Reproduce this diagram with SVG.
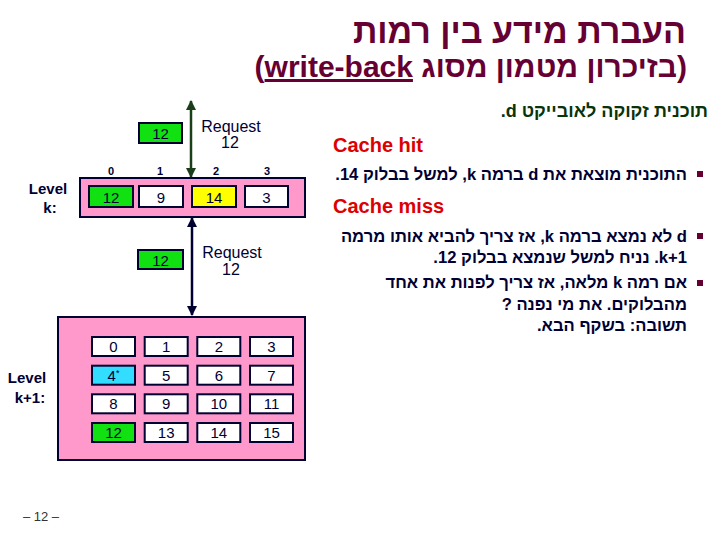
<svg xmlns="http://www.w3.org/2000/svg" width="720" height="540" viewBox="0 0 720 540">
<style>
text{font-family:"Liberation Sans","DejaVu Sans",Arial,sans-serif;}
.title{fill:#660033;font-weight:bold;}
.box{fill:#ff99cc;stroke:#000033;stroke-width:2;}
.cell{fill:#ffffff;stroke:#000033;stroke-width:2;}
.g{fill:#11e011;}
.y{fill:#ffff00;}
.c{fill:#33ddff;}
.num{font-size:15px;fill:#000033;text-anchor:middle;}
.idx{font-size:11px;font-weight:bold;fill:#000033;text-anchor:middle;}
.lbl{font-size:15px;font-weight:bold;fill:#000033;text-anchor:middle;}
.req{font-size:16px;fill:#000033;text-anchor:middle;}
.heb{font-size:16.6px;font-weight:bold;fill:#000033;direction:rtl;text-anchor:start;}
.hd{font-size:20px;font-weight:bold;fill:#dd0000;}
.bul{fill:#660033;}
</style>
<defs>
<marker id="ag" viewBox="0 0 10 10" refX="9" refY="5" markerWidth="4" markerHeight="4" orient="auto-start-reverse"><path d="M0,0 L10,5 L0,10 z" fill="#1a3d1a"/></marker>
<marker id="an" viewBox="0 0 10 10" refX="9" refY="5" markerWidth="4" markerHeight="4" orient="auto-start-reverse"><path d="M0,0 L10,5 L0,10 z" fill="#000033"/></marker>
</defs>

<g id="title">
<text class="title" x="686" y="43" font-size="34" direction="rtl" text-anchor="start">העברת מידע בין רמות</text>
<text class="title" x="687" y="77" font-size="30" direction="rtl" text-anchor="start">(בזיכרון מטמון מסוג <tspan text-decoration="underline">write-back</tspan>)</text>
</g>

<g id="level-k">
<text class="lbl" x="48" y="194">Level</text>
<text class="lbl" x="50" y="213">k:</text>
<rect class="box" x="80" y="178" width="225" height="39"/>
<text class="idx" x="111" y="175">0</text>
<text class="idx" x="160" y="175">1</text>
<text class="idx" x="216" y="175">2</text>
<text class="idx" x="267" y="175">3</text>
<rect class="cell g" x="89" y="186" width="44" height="21"/><text class="num" x="111" y="203">12</text>
<rect class="cell" x="139" y="186" width="44" height="21"/><text class="num" x="161" y="203">9</text>
<rect class="cell y" x="192" y="186" width="44" height="21"/><text class="num" x="214" y="203">14</text>
<rect class="cell" x="245" y="186" width="43" height="21"/><text class="num" x="266.5" y="203">3</text>
</g>

<g id="block-up">
<rect class="cell g" x="139" y="123" width="43" height="20"/><text class="num" x="160.5" y="139">12</text>
<text class="req" x="231" y="132">Request</text>
<text class="req" x="230" y="148">12</text>
</g>

<g id="block-down">
<rect class="cell g" x="138" y="250" width="45" height="19"/><text class="num" x="160.5" y="266">12</text>
<text class="req" x="232" y="258">Request</text>
<text class="req" x="231" y="275">12</text>
</g>

<g id="level-k1">
<text class="lbl" x="27" y="383">Level</text>
<text class="lbl" x="30" y="403">k+1:</text>
<rect class="box" x="58" y="317" width="247" height="143"/>
<rect class="cell" x="92" y="337" width="43" height="19"/><text class="num" x="113.5" y="352">0</text>
<rect class="cell" x="144.7" y="337" width="43" height="19"/><text class="num" x="166.2" y="352">1</text>
<rect class="cell" x="197.3" y="337" width="43" height="19"/><text class="num" x="218.8" y="352">2</text>
<rect class="cell" x="250" y="337" width="43" height="19"/><text class="num" x="271.5" y="352">3</text>
<rect class="cell c" x="92" y="365.7" width="43" height="19"/><text class="num" x="113.5" y="380.7">4<tspan font-size="9" dy="-5">*</tspan></text>
<rect class="cell" x="144.7" y="365.7" width="43" height="19"/><text class="num" x="166.2" y="380.7">5</text>
<rect class="cell" x="197.3" y="365.7" width="43" height="19"/><text class="num" x="218.8" y="380.7">6</text>
<rect class="cell" x="250" y="365.7" width="43" height="19"/><text class="num" x="271.5" y="380.7">7</text>
<rect class="cell" x="92" y="394.3" width="43" height="19"/><text class="num" x="113.5" y="409.3">8</text>
<rect class="cell" x="144.7" y="394.3" width="43" height="19"/><text class="num" x="166.2" y="409.3">9</text>
<rect class="cell" x="197.3" y="394.3" width="43" height="19"/><text class="num" x="218.8" y="409.3">10</text>
<rect class="cell" x="250" y="394.3" width="43" height="19"/><text class="num" x="271.5" y="409.3">11</text>
<rect class="cell g" x="92" y="423" width="43" height="19"/><text class="num" x="113.5" y="438">12</text>
<rect class="cell" x="144.7" y="423" width="43" height="19"/><text class="num" x="166.2" y="438">13</text>
<rect class="cell" x="197.3" y="423" width="43" height="19"/><text class="num" x="218.8" y="438">14</text>
<rect class="cell" x="250" y="423" width="43" height="19"/><text class="num" x="271.5" y="438">15</text>
</g>

<g id="connectors">
<line x1="191" y1="101" x2="191" y2="177" stroke="#1a3d1a" stroke-width="2.5" marker-start="url(#ag)" marker-end="url(#ag)"/>
<line x1="192" y1="218" x2="192" y2="315" stroke="#000033" stroke-width="2.5" marker-start="url(#an)" marker-end="url(#an)"/>
</g>

<g id="notes">
<text x="708" y="117" font-size="18" font-weight="bold" fill="#0a330a" direction="rtl" text-anchor="start">תוכנית זקוקה לאובייקט d.</text>
<text class="hd" x="333" y="152">Cache hit</text>
<rect class="bul" x="697" y="171" width="6" height="6"/>
<text class="heb" x="687" y="180">התוכנית מוצאת את d ברמה k, למשל בבלוק 14.</text>
<text class="hd" x="333" y="213">Cache miss</text>
<rect class="bul" x="697" y="233" width="6" height="6"/>
<text class="heb" x="687" y="242">d לא נמצא ברמה k, אז צריך להביא אותו מרמה</text>
<text class="heb" x="687" y="263">k+1. נניח למשל שנמצא בבלוק 12.</text>
<rect class="bul" x="697" y="280" width="6" height="6"/>
<text class="heb" x="687" y="288">אם רמה k מלאה, אז צריך לפנות את אחד</text>
<text class="heb" x="687" y="310">מהבלוקים. את מי נפנה ?</text>
<text class="heb" x="687" y="331">תשובה: בשקף הבא.</text>
</g>

<g id="page-number">
<text x="41" y="521" font-size="13" fill="#333333" text-anchor="middle">– 12 –</text>
</g>
</svg>
